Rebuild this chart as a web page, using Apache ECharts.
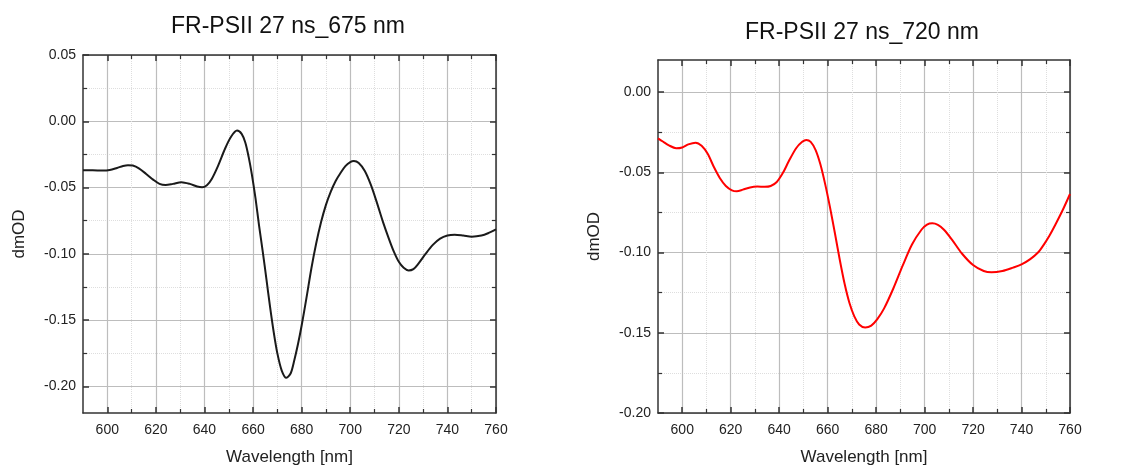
<!DOCTYPE html>
<html><head><meta charset="utf-8">
<script src="https://cdn.jsdelivr.net/npm/echarts@6/dist/echarts.min.js"></script>
<style>html,body{margin:0;padding:0;background:#fff}#c{width:1128px;height:471px}</style>
</head><body><div id="c"></div>
<script>
// ---- data ----
const titles = ['FR-PSII 27 ns_675 nm', 'FR-PSII 27 ns_720 nm'];
const xName = 'Wavelength [nm]';
const yName = 'dmOD';
const xTicks = [600, 620, 640, 660, 680, 700, 720, 740, 760];
const xMinorTicks = [610, 630, 650, 670, 690, 710, 730, 750];
const yTicksLeft = [-0.20, -0.15, -0.10, -0.05, 0.00, 0.05];
const yMinorLeft = [-0.175, -0.125, -0.075, -0.025, 0.025];
const yTicksRight = [-0.20, -0.15, -0.10, -0.05, 0.00];
const yMinorRight = [-0.175, -0.125, -0.075, -0.025];

const wl675 = [590, 594, 598, 601, 604, 606.5, 608.5, 610.5, 613, 616, 619, 621.5, 624, 627, 630.5, 634, 637, 639, 641, 643, 645.5, 648.5, 651, 653.4, 655.3, 656.8, 658.2, 659.5, 661, 662.5, 664, 665.5, 667, 668.5, 670, 671.8, 673.7, 675.5, 677, 678.5, 680, 682, 684, 686, 688, 690, 692, 694, 696, 698, 700, 701.5, 703.5, 706, 708.5, 711, 713.5, 716, 718, 720, 722, 724, 726, 728, 731, 734, 737, 740, 743, 746.5, 750, 754, 757, 760];
const od675 = [-0.037, -0.037, -0.0372, -0.0368, -0.0352, -0.0337, -0.0331, -0.0334, -0.0355, -0.0397, -0.0442, -0.0472, -0.0481, -0.0472, -0.0459, -0.0472, -0.0492, -0.0498, -0.0482, -0.0435, -0.034, -0.0205, -0.0115, -0.007, -0.0095, -0.016, -0.027, -0.040, -0.058, -0.079, -0.0985, -0.119, -0.140, -0.159, -0.175, -0.188, -0.1935, -0.190, -0.180, -0.168, -0.154, -0.133, -0.111, -0.092, -0.076, -0.063, -0.053, -0.045, -0.039, -0.0338, -0.0308, -0.030, -0.0315, -0.0375, -0.048, -0.0615, -0.076, -0.089, -0.0985, -0.106, -0.1105, -0.1125, -0.1115, -0.1075, -0.100, -0.0932, -0.0885, -0.0862, -0.0856, -0.0862, -0.087, -0.0862, -0.0842, -0.0815];

const wl720 = [590, 592, 594.5, 597.5, 600, 602.5, 605.5, 608, 610.5, 613, 615.5, 618, 620.5, 622.5, 625, 628, 631, 634, 636.5, 639, 641.5, 644, 647, 649.5, 651.2, 653, 655, 657, 659, 661, 663, 665, 667, 669, 671, 673, 675.5, 678, 680.5, 683.3, 687.1, 691, 694.8, 698.7, 701, 703.2, 705.5, 708, 711.5, 715.4, 720, 724.4, 727.6, 732.1, 736.5, 740, 743.6, 746.8, 749, 751.5, 754, 757, 760];
const od720 = [-0.0288, -0.0308, -0.0332, -0.035, -0.0345, -0.0326, -0.0315, -0.0335, -0.0385, -0.0465, -0.0535, -0.0585, -0.0612, -0.0618, -0.0608, -0.0594, -0.0589, -0.059, -0.0585, -0.056, -0.0505, -0.043, -0.035, -0.031, -0.0298, -0.031, -0.036, -0.045, -0.0575, -0.072, -0.088, -0.1045, -0.1195, -0.1315, -0.1398, -0.1448, -0.1467, -0.1455, -0.1415, -0.1348, -0.1224, -0.108, -0.095, -0.0858, -0.0826, -0.0818, -0.0828, -0.0858, -0.0924, -0.1006, -0.1078, -0.1115, -0.1123, -0.1115, -0.1094, -0.1074, -0.1041, -0.100, -0.0955, -0.0895, -0.0825, -0.0735, -0.0635];

// ---- chart ----
const FONT = 'Liberation Sans, Arial, Helvetica, sans-serif';
const FRAME = '#333333';
const GRIDC = '#bdbdbd';
const MINORC = '#dedede';

function xAxesFor(gi) {
  const base = {type: 'value', gridIndex: gi, min: 590, max: 760};
  return [
    Object.assign({}, base, {
      position: 'bottom', name: xName, nameLocation: 'middle', nameGap: 36,
      nameTextStyle: {fontSize: 17, color: '#222', fontFamily: FONT},
      axisLine: {show: true, onZero: false, lineStyle: {color: FRAME, width: 1.5}},
      axisTick: {show: true, inside: true, length: 6, customValues: xTicks, lineStyle: {color: FRAME, width: 1.5}},
      axisLabel: {show: true, customValues: xTicks, margin: 10, fontSize: 14, color: '#222', fontFamily: FONT, formatter: v => String(v)},
      splitLine: {show: true, lineStyle: {color: GRIDC, width: 1.2}}
    }),
    Object.assign({}, base, {
      position: 'top',
      axisLine: {show: true, onZero: false, lineStyle: {color: FRAME, width: 1.5}},
      axisTick: {show: true, inside: true, length: 6, customValues: xTicks, lineStyle: {color: FRAME, width: 1.5}},
      axisLabel: {show: false}, splitLine: {show: false}
    }),
    Object.assign({}, base, {
      position: 'bottom',
      axisLine: {show: false, onZero: false},
      axisTick: {show: true, inside: true, length: 4, customValues: xMinorTicks, lineStyle: {color: FRAME, width: 1.2}},
      axisLabel: {show: false},
      splitLine: {show: true, lineStyle: {color: MINORC, width: 1, type: 'dotted'}}
    }),
    Object.assign({}, base, {
      position: 'top',
      axisLine: {show: false, onZero: false},
      axisTick: {show: true, inside: true, length: 4, customValues: xMinorTicks, lineStyle: {color: FRAME, width: 1.2}},
      axisLabel: {show: false}, splitLine: {show: false}
    })
  ];
}

function yAxesFor(gi, min, max, major, minor) {
  const base = {type: 'value', gridIndex: gi, min: min, max: max};
  return [
    Object.assign({}, base, {
      position: 'left', name: yName, nameLocation: 'middle', nameGap: 55, nameRotate: 90,
      nameTextStyle: {fontSize: 17, color: '#222', fontFamily: FONT},
      axisLine: {show: true, onZero: false, lineStyle: {color: FRAME, width: 1.5}},
      axisTick: {show: true, inside: true, length: 6, customValues: major, lineStyle: {color: FRAME, width: 1.5}},
      axisLabel: {show: true, customValues: major, margin: 7, fontSize: 14, color: '#222', fontFamily: FONT, formatter: v => v.toFixed(2)},
      splitLine: {show: true, lineStyle: {color: GRIDC, width: 1.2}}
    }),
    Object.assign({}, base, {
      position: 'right',
      axisLine: {show: true, onZero: false, lineStyle: {color: FRAME, width: 1.5}},
      axisTick: {show: true, inside: true, length: 6, customValues: major, lineStyle: {color: FRAME, width: 1.5}},
      axisLabel: {show: false}, splitLine: {show: false}
    }),
    Object.assign({}, base, {
      position: 'left',
      axisLine: {show: false, onZero: false},
      axisTick: {show: true, inside: true, length: 4, customValues: minor, lineStyle: {color: FRAME, width: 1.2}},
      axisLabel: {show: false},
      splitLine: {show: true, lineStyle: {color: MINORC, width: 1, type: 'dotted'}}
    }),
    Object.assign({}, base, {
      position: 'right',
      axisLine: {show: false, onZero: false},
      axisTick: {show: true, inside: true, length: 4, customValues: minor, lineStyle: {color: FRAME, width: 1.2}},
      axisLabel: {show: false}, splitLine: {show: false}
    })
  ];
}

function pairs(xs, ys) { return xs.map((x, i) => [x, ys[i]]); }

const chart = echarts.init(document.getElementById('c'), null, {renderer: 'canvas'});
chart.setOption({
  backgroundColor: '#ffffff',
  animation: false,
  textStyle: {fontFamily: FONT},
  title: [
    {text: titles[0], left: 288, top: 15, textAlign: 'center', padding: 0,
     textStyle: {fontSize: 23, fontWeight: 'normal', color: '#111', fontFamily: FONT}},
    {text: titles[1], left: 862, top: 21, textAlign: 'center', padding: 0,
     textStyle: {fontSize: 23, fontWeight: 'normal', color: '#111', fontFamily: FONT}}
  ],
  grid: [
    {left: 83, top: 55, width: 413, height: 359, containLabel: false},
    {left: 658, top: 60, width: 412, height: 356, containLabel: false}
  ],
  xAxis: xAxesFor(0).concat(xAxesFor(1)),
  yAxis: yAxesFor(0, -0.22, 0.05, yTicksLeft, yMinorLeft).concat(yAxesFor(1, -0.20, 0.02, yTicksRight, yMinorRight)),
  series: [
    {type: 'line', name: titles[0], xAxisIndex: 0, yAxisIndex: 0, data: pairs(wl675, od675),
     smooth: 0.3, showSymbol: false, symbol: 'none', clip: true,
     lineStyle: {color: '#1a1a1a', width: 2}},
    {type: 'line', name: titles[1], xAxisIndex: 4, yAxisIndex: 4, data: pairs(wl720, od720),
     smooth: 0.3, showSymbol: false, symbol: 'none', clip: true,
     lineStyle: {color: '#ff0000', width: 2}}
  ]
});
</script>
</body></html>
